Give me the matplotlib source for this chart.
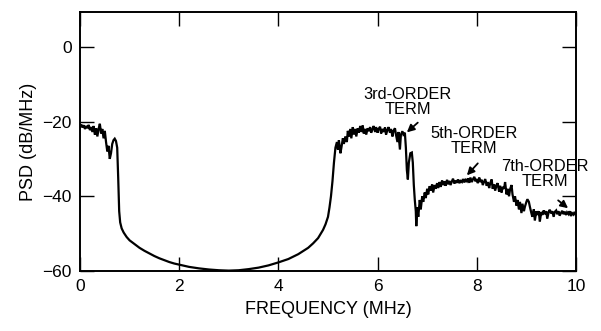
import matplotlib
matplotlib.use("Agg")
import matplotlib.pyplot as plt
import numpy as np

plt.rcParams['font.family'] = ['Liberation Sans', 'DejaVu Sans']

# --- data (MHz, dB/MHz) ---
band0_f = [0.00, 0.025, 0.05, 0.075, 0.10, 0.125, 0.15, 0.175, 0.20, 0.225, 0.25, 0.275,
           0.30, 0.325, 0.35, 0.375, 0.40, 0.425, 0.45, 0.475, 0.50, 0.525, 0.55, 0.575,
           0.60, 0.625, 0.65, 0.675, 0.70, 0.725, 0.75, 0.77, 0.79, 0.81]
band0_p = [-21.5, -20.8, -21.6, -21.0, -22.0, -21.2, -21.8, -20.9, -22.3, -21.5, -22.8, -21.2,
           -23.5, -21.8, -24.0, -22.0, -20.6, -23.2, -22.0, -24.5, -22.5, -25.5, -28.0, -26.5,
           -30.0, -28.5, -26.0, -25.0, -24.6, -25.2, -27.0, -35.0, -44.0, -47.0]

gap_f = [0.84, 0.88, 0.94, 1.0, 1.1, 1.2, 1.3, 1.4, 1.5, 1.6, 1.7, 1.8, 1.9, 2.0, 2.2, 2.4,
         2.6, 2.8, 3.0, 3.2, 3.4, 3.6, 3.8, 4.0, 4.2, 4.4, 4.6, 4.7, 4.8, 4.9, 4.95, 5.0,
         5.03, 5.06, 5.09, 5.12, 5.15]
gap_p = [-48.6, -49.7, -50.9, -51.8, -52.8, -53.8, -54.6, -55.3, -56.0, -56.6, -57.1, -57.6,
         -58.0, -58.3, -58.9, -59.3, -59.6, -59.8, -59.9, -59.8, -59.5, -59.1, -58.5, -57.7,
         -56.8, -55.5, -53.8, -52.6, -51.2, -49.0, -47.5, -45.5, -43.0, -40.0, -36.0, -31.0,
         -27.0]

band3_f = [5.18, 5.20, 5.22, 5.25, 5.27, 5.30, 5.32, 5.35, 5.38, 5.40, 5.42, 5.45, 5.47, 5.50,
           5.52, 5.55, 5.57, 5.60, 5.62, 5.65, 5.67, 5.70, 5.72, 5.75, 5.77, 5.80, 5.82, 5.85,
           5.87, 5.90, 5.92, 5.95, 5.97, 6.00, 6.02, 6.05, 6.07, 6.10, 6.12, 6.15, 6.17, 6.20,
           6.22, 6.25, 6.27, 6.30, 6.32, 6.35, 6.37, 6.40, 6.42, 6.45, 6.47, 6.50, 6.52, 6.55,
           6.57, 6.59, 6.61, 6.63, 6.66, 6.69, 6.71, 6.73, 6.75, 6.77, 6.78, 6.80, 6.82]
band3_p = [-25.5, -27.5, -25.0, -28.5, -27.0, -24.5, -26.0, -24.0, -25.5, -22.5, -24.0, -22.0,
           -24.5, -21.5, -23.5, -22.0, -24.0, -21.8, -23.0, -21.2, -22.8, -21.0, -23.2, -22.0,
           -23.5, -21.8, -22.6, -21.5, -23.0, -22.0, -21.2, -22.8, -21.5, -23.0, -22.0, -21.4,
           -23.2, -22.0, -22.8, -21.6, -23.5, -22.2, -21.5, -23.0, -22.0, -24.0, -22.5, -21.8,
           -23.5, -25.5, -22.8, -27.5, -23.5, -22.6, -23.5, -23.0, -27.0, -33.0, -35.5, -31.0,
           -28.5, -28.3, -31.0, -37.0, -41.0, -44.0, -48.0, -43.0, -45.5]

band5_f = [6.85, 6.87, 6.90, 6.92, 6.95, 6.97, 7.00, 7.02, 7.05, 7.07, 7.10, 7.12, 7.15, 7.17,
           7.20, 7.22, 7.25, 7.27, 7.30, 7.32, 7.35, 7.37, 7.40, 7.42, 7.45, 7.47, 7.50, 7.52,
           7.55, 7.57, 7.60, 7.62, 7.65, 7.67, 7.70, 7.72, 7.75, 7.77, 7.80, 7.82, 7.85, 7.87,
           7.90, 7.92, 7.95, 7.97, 8.00, 8.02, 8.05, 8.07, 8.10, 8.12, 8.15, 8.17, 8.20, 8.22,
           8.25, 8.27, 8.30, 8.32, 8.35, 8.37, 8.40, 8.42, 8.45, 8.47, 8.50, 8.52, 8.55, 8.57,
           8.60, 8.62, 8.65, 8.67, 8.70, 8.72, 8.75, 8.77]
band5_p = [-41.0, -43.5, -40.0, -41.5, -39.0, -40.5, -38.0, -39.5, -37.3, -38.5, -36.8, -39.0,
           -37.0, -38.0, -36.5, -37.8, -36.2, -37.5, -35.8, -37.0, -36.0, -37.2, -35.6, -36.8,
           -35.9, -37.0, -36.0, -35.3, -36.6, -35.8, -36.4, -35.5, -36.5, -35.9, -36.2, -35.4,
           -36.3, -35.6, -36.0, -35.2, -36.4, -35.0, -36.2, -35.5, -34.8, -36.0, -35.4, -36.5,
           -35.0, -36.2, -35.6, -37.0, -36.0, -35.4, -37.2, -36.2, -37.8, -36.5, -35.5, -38.0,
           -36.8, -38.5, -37.0, -36.5, -38.8, -37.2, -39.0, -37.5, -38.0, -36.2, -39.5, -38.0,
           -40.0, -38.2, -37.0, -39.5, -41.5, -40.0]

band7_f = [8.80, 8.82, 8.85, 8.87, 8.90, 8.92, 8.95, 8.97, 9.00, 9.02, 9.05, 9.07, 9.10, 9.12,
           9.15, 9.17, 9.20, 9.22, 9.25, 9.27, 9.30, 9.32, 9.35, 9.37, 9.40, 9.42, 9.45, 9.47,
           9.50, 9.52, 9.55, 9.57, 9.60, 9.62, 9.65, 9.67, 9.70, 9.72, 9.75, 9.77, 9.80, 9.82,
           9.85, 9.87, 9.90, 9.92, 9.95, 9.97, 10.00]
band7_p = [-42.5, -41.0, -43.5, -41.5, -44.5, -42.0, -44.0, -42.8, -41.5, -40.8, -41.5, -42.8,
           -44.5, -45.5, -43.5, -46.5, -44.0, -45.0, -44.0, -46.8, -44.2, -45.0, -43.8, -44.8,
           -44.0, -46.0, -44.2, -43.6, -44.6, -44.0, -45.5, -44.2, -43.8, -44.8, -44.0, -45.2,
           -44.4, -43.9, -44.8, -44.1, -45.0, -44.3, -44.8, -44.0, -45.3, -44.5, -44.9, -44.2,
           -45.0]

x_ticks = [0, 2, 4, 6, 8, 10]
y_ticks = [-60, -40, -20, 0]

labels = ["3rd-ORDER\nTERM", "5th-ORDER\nTERM", "7th-ORDER\nTERM"]
label_xy = [(6.61, -14.7), (7.94, -25.3), (9.38, -34.1)]
arrow_tail = [(6.81, -20.3), (8.02, -31.2), (9.64, -41.1)]
arrow_head = [(6.59, -22.9), (7.80, -34.4), (9.84, -43.2)]

freq = np.array(band0_f + gap_f + band3_f + band5_f + band7_f)
psd = np.array(band0_p + gap_p + band3_p + band5_p + band7_p)

fig = plt.figure(figsize=(6.01, 3.31), dpi=100)
ax = fig.add_axes([80/601, 1-271/331, (576-80)/601, (271-12)/331])
ax.plot(freq, psd, color='black', lw=1.6, solid_joinstyle='miter')
ax.set_xlim(0, 10)
ax.set_ylim(-60, 9.3)
ax.set_xticks(x_ticks)
ax.set_yticks(y_ticks)
ax.tick_params(direction='in', length=10, width=1.0, top=True, right=True,
               labelsize=12.5, pad=6, colors='black')
for s in ax.spines.values():
    s.set_linewidth(1.4)
ax.set_xlabel("FREQUENCY (MHz)", fontsize=13, labelpad=5)
ax.set_ylabel("PSD (dB/MHz)", fontsize=13, labelpad=4)

for txt, (tx, ty), tail, head in zip(labels, label_xy, arrow_tail, arrow_head):
    ax.text(tx, ty, txt, ha='center', va='center', fontsize=11.8, linespacing=1.0,
            clip_on=False)
    ax.annotate("", xy=head, xytext=tail,
                arrowprops=dict(arrowstyle='-|>', color='black', lw=1.3,
                                mutation_scale=11, shrinkA=0, shrinkB=0),
                annotation_clip=False)

fig.savefig("out.png", dpi=100)
